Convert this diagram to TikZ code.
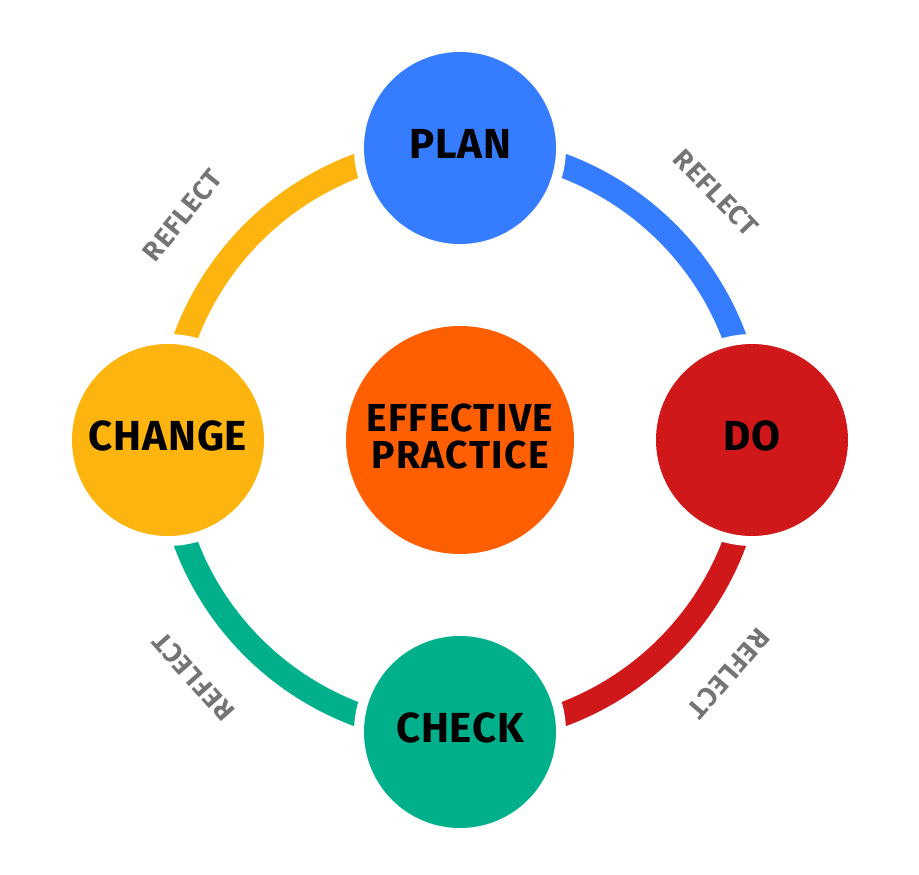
\documentclass[tikz,border=0pt]{standalone}
\usepackage{fontspec}
\setmainfont{Fira Sans}
\newfontfamily\stagefont[LetterSpace=2]{Fira Sans}
\newfontfamily\hubfont[LetterSpace=3.5]{Fira Sans}
\newfontfamily\reflectfont[LetterSpace=4]{Fira Sans}
\definecolor{cplan}{HTML}{367CFF}
\definecolor{cdo}{HTML}{D0171A}
\definecolor{ccheck}{HTML}{00B08A}
\definecolor{cchange}{HTML}{FDB40F}
\definecolor{ccenter}{HTML}{FF5F00}
\definecolor{cgray}{HTML}{747474}
\tikzset{
  stage/.style={circle, minimum size=192pt, inner sep=0pt, fill=#1,
    preaction={draw=white, line width=20pt},
    text height=29pt, text depth=8pt,
    font=\stagefont\fontsize{42}{42}\selectfont\bfseries, text=black},
  hub/.style={circle, minimum size=228pt, inner sep=0pt, fill=ccenter},
  hubtext/.style={align=center, inner sep=0pt,
    font=\hubfont\fontsize{39}{37}\selectfont\bfseries, text=black},
  ringarc/.style={line width=24pt, draw=#1},
  reflect/.style={font=\reflectfont\fontsize{27}{27}\selectfont\bfseries, text=cgray, inner sep=0pt}
}
\begin{document}
\begin{tikzpicture}[x=1pt,y=1pt]
\useasboundingbox (-460,-435) rectangle (459,440);
\draw[ringarc=cplan] (90:293pt) arc (90:0:293pt);
\draw[ringarc=cdo] (0:293pt) arc (0:-90:293pt);
\draw[ringarc=ccheck] (-90:293pt) arc (-90:-180:293pt);
\draw[ringarc=cchange] (180:293pt) arc (180:90:293pt);
\node[hub] (hub) at (0,0) {};
\node[hubtext] (hubtext) at (0,3.5) {EFFECTIVE\\PRACTICE};
\node[stage=cplan] (plan) at (0,292) {PLAN};
\node[stage=cdo] (do) at (292,0) {DO};
\node[stage=ccheck] (check) at (0,-292) {CHECK};
\node[stage=cchange] (change) at (-292,0) {CHANGE};
\node[reflect, rotate=-46] (r1) at (44:356pt) {REFLECT};
\node[reflect, rotate=-131] (r2) at (-41:356pt) {REFLECT};
\node[reflect, rotate=131.6] (r3) at (221.6:356.6pt) {REFLECT};
\node[reflect, rotate=51] (r4) at (141:357pt) {REFLECT};
\end{tikzpicture}
\end{document}
